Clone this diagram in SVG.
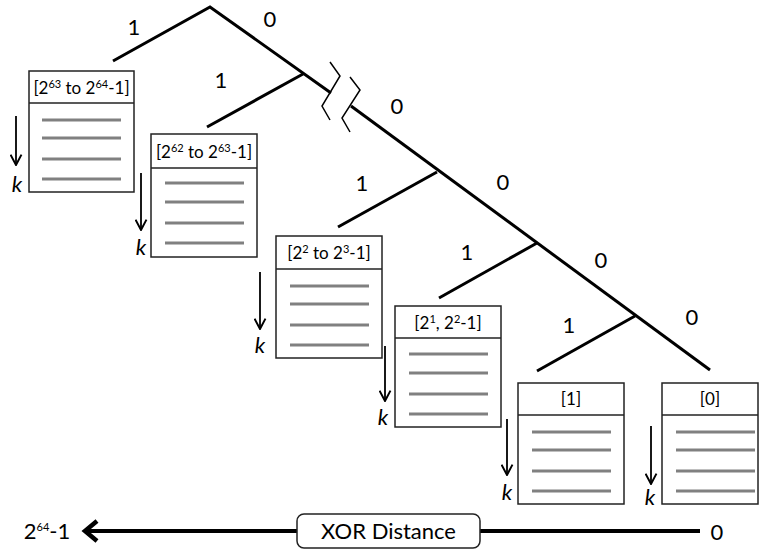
<svg xmlns="http://www.w3.org/2000/svg" width="761" height="550" viewBox="0 0 761 550">
  <style>
    .edge { stroke: #000; stroke-width: 3; fill: none; stroke-linecap: butt; }
    .bit { font-family: Lato, "Open Sans", sans-serif; font-size: 22px; fill: #000; text-anchor: middle; }
    .box { fill: #fff; stroke: #222; stroke-width: 1.5; }
    .row { stroke: #808080; stroke-width: 3; }
    .head { font-family: Lato, "Open Sans", sans-serif; font-size: 17px; fill: #000; text-anchor: middle; }
    .sup { font-size: 11px; }
    .kar { stroke: #000; stroke-width: 1.8; fill: none; marker-end: url(#vhead); }
    .k { font-family: Lato, "Open Sans", sans-serif; font-size: 22px; font-style: italic; fill: #000; text-anchor: middle; }
    .axis { stroke: #000; stroke-width: 4; fill: none; }
  </style>
  <defs>
    <marker id="vhead" viewBox="0 0 10 10" refX="9" refY="5" markerUnits="userSpaceOnUse" markerWidth="13" markerHeight="13" orient="auto">
      <path d="M1,0.8 L9,5 L1,9.2" fill="none" stroke="#000" stroke-width="1.5"/>
    </marker>
  </defs>

  <!-- trie branches -->
  <g id="connectors">
    <path class="edge" d="M113,61 L210,7 L331,93"/>
    <path class="edge" d="M207,127 L303,74"/>
    <!-- break marks on the long branch -->
    <path d="M330,62 L340,76 L322,106 L330,120" fill="none" stroke="#000" stroke-width="1.5"/>
    <path d="M350,77 L360,90 L342,118 L350,132" fill="none" stroke="#000" stroke-width="1.5"/>
    <path class="edge" d="M351,106 L710,370"/>
    <path class="edge" d="M338,227 L437,172"/>
    <path class="edge" d="M439,298 L537,243"/>
    <path class="edge" d="M537,371 L635,316"/>
  </g>

  <!-- bit labels -->
  <g id="labels">
    <text class="bit" x="134" y="35">1</text>
    <text class="bit" x="270" y="27">0</text>
    <text class="bit" x="221" y="88">1</text>
    <text class="bit" x="397" y="114">0</text>
    <text class="bit" x="362" y="191">1</text>
    <text class="bit" x="503" y="190">0</text>
    <text class="bit" x="467" y="260">1</text>
    <text class="bit" x="601" y="268">0</text>
    <text class="bit" x="569" y="333">1</text>
    <text class="bit" x="692" y="325">0</text>
  </g>

  <!-- bucket [2^63, 2^64-1] -->
  <g id="bucket63">
    <rect class="box" x="29" y="71" width="105" height="121"/>
    <line class="box" x1="29" y1="103" x2="134" y2="103"/>
    <text class="head" x="81.5" y="94">[2<tspan class="sup" dy="-6">63</tspan><tspan dy="6"> to 2</tspan><tspan class="sup" dy="-6">64</tspan><tspan dy="6">-1]</tspan></text>
    <line class="row" x1="42" y1="120" x2="121" y2="120"/>
    <line class="row" x1="42" y1="138" x2="121" y2="138"/>
    <line class="row" x1="42" y1="159" x2="121" y2="159"/>
    <line class="row" x1="42" y1="179" x2="121" y2="179"/>
    <line class="kar" x1="16" y1="116" x2="16" y2="165"/>
    <text class="k" x="17" y="192">k</text>
  </g>

  <!-- bucket [2^62, 2^63-1] -->
  <g id="bucket62">
    <rect class="box" x="151" y="134" width="106" height="123"/>
    <line class="box" x1="151" y1="168" x2="257" y2="168"/>
    <text class="head" x="204" y="158">[2<tspan class="sup" dy="-6">62</tspan><tspan dy="6"> to 2</tspan><tspan class="sup" dy="-6">63</tspan><tspan dy="6">-1]</tspan></text>
    <line class="row" x1="165" y1="183" x2="244" y2="183"/>
    <line class="row" x1="165" y1="202" x2="244" y2="202"/>
    <line class="row" x1="165" y1="223" x2="244" y2="223"/>
    <line class="row" x1="165" y1="243" x2="244" y2="243"/>
    <line class="kar" x1="141" y1="173" x2="141" y2="230"/>
    <text class="k" x="141" y="255">k</text>
  </g>

  <!-- bucket [2^2, 2^3-1] -->
  <g id="bucket2">
    <rect class="box" x="276" y="236" width="106" height="122"/>
    <line class="box" x1="276" y1="269" x2="382" y2="269"/>
    <text class="head" x="329" y="259">[2<tspan class="sup" dy="-6">2</tspan><tspan dy="6"> to 2</tspan><tspan class="sup" dy="-6">3</tspan><tspan dy="6">-1]</tspan></text>
    <line class="row" x1="290" y1="286" x2="369" y2="286"/>
    <line class="row" x1="290" y1="304" x2="369" y2="304"/>
    <line class="row" x1="290" y1="325" x2="369" y2="325"/>
    <line class="row" x1="290" y1="345" x2="369" y2="345"/>
    <line class="kar" x1="260" y1="272" x2="260" y2="329"/>
    <text class="k" x="260" y="353">k</text>
  </g>

  <!-- bucket [2^1, 2^2-1] -->
  <g id="bucket1">
    <rect class="box" x="395" y="306" width="106" height="121"/>
    <line class="box" x1="395" y1="338" x2="501" y2="338"/>
    <text class="head" x="448" y="329">[2<tspan class="sup" dy="-6">1</tspan><tspan dy="6">, 2</tspan><tspan class="sup" dy="-6">2</tspan><tspan dy="6">-1]</tspan></text>
    <line class="row" x1="409" y1="354" x2="488" y2="354"/>
    <line class="row" x1="409" y1="373" x2="488" y2="373"/>
    <line class="row" x1="409" y1="394" x2="488" y2="394"/>
    <line class="row" x1="409" y1="414" x2="488" y2="414"/>
    <line class="kar" x1="385" y1="346" x2="385" y2="401"/>
    <text class="k" x="383" y="425">k</text>
  </g>

  <!-- bucket [1] -->
  <g id="bucketOne">
    <rect class="box" x="518" y="383" width="106" height="121"/>
    <line class="box" x1="518" y1="415" x2="624" y2="415"/>
    <text class="head" x="571" y="405">[1]</text>
    <line class="row" x1="532" y1="432" x2="611" y2="432"/>
    <line class="row" x1="532" y1="450" x2="611" y2="450"/>
    <line class="row" x1="532" y1="471" x2="611" y2="471"/>
    <line class="row" x1="532" y1="491" x2="611" y2="491"/>
    <line class="kar" x1="507" y1="419" x2="507" y2="475"/>
    <text class="k" x="507" y="500">k</text>
  </g>

  <!-- bucket [0] -->
  <g id="bucketZero">
    <rect class="box" x="662" y="383" width="96" height="121"/>
    <line class="box" x1="662" y1="415" x2="758" y2="415"/>
    <text class="head" x="710" y="405">[0]</text>
    <line class="row" x1="676" y1="432" x2="755" y2="432"/>
    <line class="row" x1="676" y1="450" x2="755" y2="450"/>
    <line class="row" x1="676" y1="471" x2="755" y2="471"/>
    <line class="row" x1="676" y1="491" x2="755" y2="491"/>
    <line class="kar" x1="651" y1="426" x2="651" y2="484"/>
    <text class="k" x="650" y="505">k</text>
  </g>

  <!-- XOR distance axis -->
  <g id="axis">
    <line class="axis" x1="700" y1="531" x2="84" y2="531"/>
    <path d="M97,521 L85,531 L97,541" fill="none" stroke="#000" stroke-width="4.5"/>
    <text class="bit" x="47" y="539">2<tspan class="sup" dy="-8" font-size="13">64</tspan><tspan dy="8">-1</tspan></text>
    <text class="bit" x="717" y="540">0</text>
  </g>
  <g id="xorDistance">
    <rect x="297" y="514" width="183" height="34" rx="7" fill="#fff" stroke="#222" stroke-width="1.5"/>
    <text class="bit" x="388.5" y="539">XOR Distance</text>
  </g>
</svg>
